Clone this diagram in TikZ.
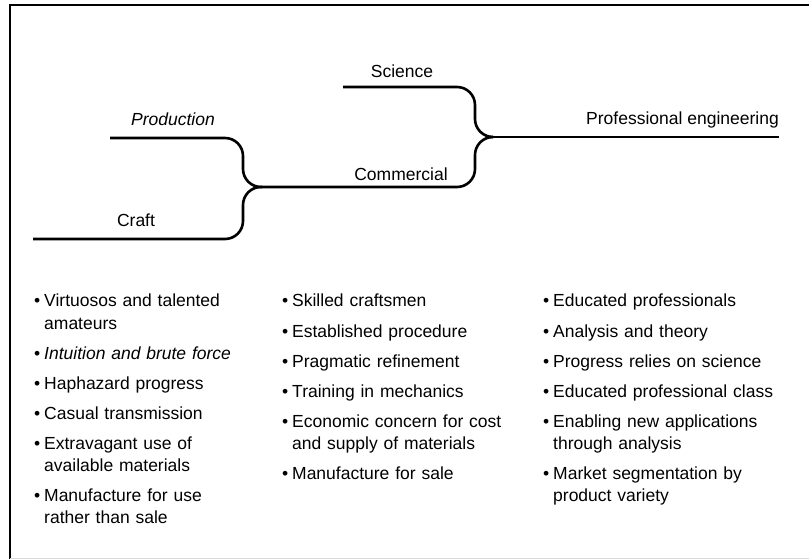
\documentclass[tikz,border=0pt]{standalone}
\usepackage{fontspec}
\setmainfont{Liberation Sans}
\newcommand\basefnt{\fontsize{17.5bp}{22bp}\selectfont}
\newcommand\bitem[1]{\leavevmode\llap{\textbullet\hspace{4bp}}{#1}}
\begin{document}
\begin{tikzpicture}[x=1bp,y=-1bp,
  branch/.style={line width=2.6bp, rounded corners=18bp},
  lbl/.style={inner sep=0pt, anchor=base, font=\basefnt},
  col/.style={inner sep=0pt, anchor=base west, text width=250bp, align=left, font=\basefnt}
]
\useasboundingbox (0,0) rectangle (809,559);
\fill[white] (0,0) rectangle (809,559);
% frame
\draw[line width=2bp] (10,559) -- (10,5) -- (809,5);
\draw[gray!30, line width=0.8bp] (10,558) -- (809,558);

% branch points
\coordinate (prodS) at (110,138);
\coordinate (craftS) at (33,239);
\coordinate (sciS) at (343,87);
\coordinate (j1) at (262,187);
\coordinate (j2) at (493,137);
\coordinate (peE) at (779,137);
\coordinate (v1) at (243,0);
\coordinate (v2) at (475,0);

\draw[branch] (prodS) -- (prodS -| v1) -- (j1 -| v1) -- (j1);
\draw[branch] (craftS) -- (craftS -| v1) -- (j1 -| v1) -- (j1);
\draw[branch] (sciS) -- (sciS -| v2) -- (j2 -| v2) -- (j2);
\draw[branch] (j1) -- (j1 -| v2) -- (j2 -| v2) -- (j2);
\draw[branch] (j2) -- (peE);

% labels
\node[lbl, font=\basefnt\itshape] (prod) at (173,126) {Production};
\node[lbl] (craft) at (136,227) {Craft};
\node[lbl] (sci) at (402,78) {Science};
\node[lbl] (comm) at (401,181) {Commercial};
\node[lbl, anchor=base east] (pe) at (779,125) {Professional engineering};

% columns
\node[col] (c1) at (44,307) {%
\bitem{Virtuosos and talented}\\amateurs\\[8bp]
\bitem{\itshape Intuition and brute force}\\[8bp]
\bitem{Haphazard progress}\\[8bp]
\bitem{Casual transmission}\\[8bp]
\bitem{Extravagant use of}\\available materials\\[8bp]
\bitem{Manufacture for use}\\rather than sale};

\node[col] (c2) at (292,307) {%
\bitem{Skilled craftsmen}\\[8bp]
\bitem{Established procedure}\\[8bp]
\bitem{Pragmatic refinement}\\[8bp]
\bitem{Training in mechanics}\\[8bp]
\bitem{Economic concern for cost}\\and supply of materials\\[8bp]
\bitem{Manufacture for sale}};

\node[col] (c3) at (553,307) {%
\bitem{Educated professionals}\\[8bp]
\bitem{Analysis and theory}\\[8bp]
\bitem{Progress relies on science}\\[8bp]
\bitem{Educated professional class}\\[8bp]
\bitem{Enabling new applications}\\through analysis\\[8bp]
\bitem{Market segmentation by}\\product variety};
\end{tikzpicture}
\end{document}
